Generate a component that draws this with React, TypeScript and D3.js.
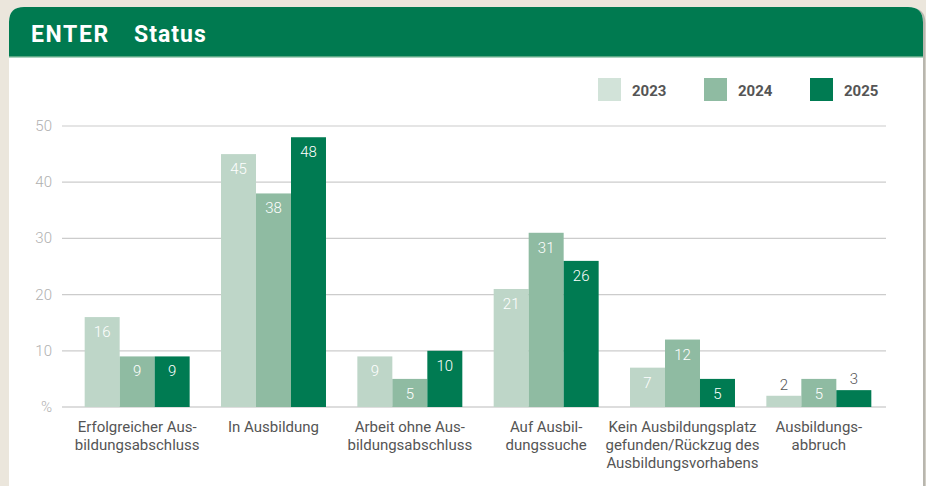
import React from "react"
import * as d3 from "d3"

const categories = [
  ["Erfolgreicher Aus-", "bildungsabschluss"],
  ["In Ausbildung"],
  ["Arbeit ohne Aus-", "bildungsabschluss"],
  ["Auf Ausbil-", "dungssuche"],
  ["Kein Ausbildungsplatz", "gefunden/Rückzug des", "Ausbildungsvorhabens"],
  ["Ausbildungs-", "abbruch"],
]
const years = ["2023", "2024", "2025"]
const values2023 = [16, 45, 9, 21, 7, 2]
const values2024 = [9, 38, 5, 31, 12, 5]
const values2025 = [9, 48, 10, 26, 5, 3]
const yTicks = [0, 10, 20, 30, 40, 50]

const series = [values2023, values2024, values2025]
const barColors = ["#bed6c8", "#8fbba2", "#007b52"]
const legendColors = ["#d2e3d9", "#8fbba2", "#007b52"]

const W = 926
const H = 486
const font = "Roboto, 'DejaVu Sans', sans-serif"

export default function App() {
  const x0 = d3.scaleBand<number>()
    .domain(d3.range(categories.length))
    .range([69, 887])
    .paddingInner(0.23)
    .paddingOuter(0.115)
  const x1 = d3.scaleBand<number>()
    .domain(d3.range(years.length))
    .range([0, x0.bandwidth()])
  const y = d3.scaleLinear().domain([0, 50]).range([407, 126])

  return (
    <svg width={W} height={H} style={{ position: "absolute", left: 0, top: 0 }}>
      <rect width={W} height={H} fill="#ebe6dc" />
      {/* card */}
      <path d={`M9,${H + 10} V22 Q9,7 24,7 H909 Q924,7 924,22 V${H + 10} Z`} fill="#b8b6ae" transform="translate(1.5,1)" />
      <path d={`M9,${H + 10} V22 Q9,7 24,7 H908 Q923,7 923,22 V${H + 10} Z`} fill="#ffffff" />
      <path d="M9,56 V22 Q9,7 24,7 H908 Q923,7 923,22 V56 Z" fill="#007a50" />
      <rect x={9} y={56} width={914} height={1.5} fill="#5aa884" />
      <text x={31} y={42} fill="#fff" fontFamily={font} fontWeight={700} fontSize={23} letterSpacing={1.6}>ENTER</text>
      <text x={134} y={42} fill="#fff" fontFamily={font} fontWeight={700} fontSize={23} letterSpacing={1}>Status</text>

      {/* legend */}
      {years.map((yr, i) => {
        const lx = [598, 704, 810][i]
        return (
          <g key={yr}>
            <rect x={lx} y={78} width={23} height={23} fill={legendColors[i]} />
            <text x={lx + 34} y={96} fill="#555" fontFamily={font} fontWeight={700} fontSize={15}>{yr}</text>
          </g>
        )
      })}

      {/* grid */}
      {yTicks.map((t) => (
        <g key={t}>
          <line x1={62} x2={886} y1={y(t)} y2={y(t)} stroke={t === 0 ? "#bbbbbb" : "#cccccc"} strokeWidth={1.2} />
          <text x={52} y={y(t) + 5} textAnchor="end" fill="#b0b0b0" fontFamily={font} fontWeight={300} fontSize={15}>
            {t === 0 ? "%" : t}
          </text>
        </g>
      ))}

      {/* bars */}
      {categories.map((_, ci) => (
        <g key={ci} transform={`translate(${x0(ci)},0)`}>
          {series.map((vals, si) => {
            const v = vals[ci]
            const bx = x1(si)!
            const top = y(v)
            const inside = v >= 4
            return (
              <g key={si}>
                <rect x={bx} y={top} width={x1.bandwidth()} height={y(0) - top} fill={barColors[si]} />
                <text
                  x={bx + x1.bandwidth() / 2}
                  y={inside ? top + 20 : top - 6}
                  textAnchor="middle"
                  fill={inside ? "#ffffff" : "#555"}
                  fontFamily={font}
                  fontWeight={300}
                  fontSize={15}
                >
                  {v}
                </text>
              </g>
            )
          })}
        </g>
      ))}

      {/* category labels */}
      {categories.map((lines, ci) => (
        <text key={ci} textAnchor="middle" fill="#555" fontFamily={font} fontWeight={400} fontSize={15}>
          {lines.map((ln, li) => (
            <tspan key={li} x={x0(ci)! + x0.bandwidth() / 2} y={432 + li * 18}>{ln}</tspan>
          ))}
        </text>
      ))}
    </svg>
  )
}
